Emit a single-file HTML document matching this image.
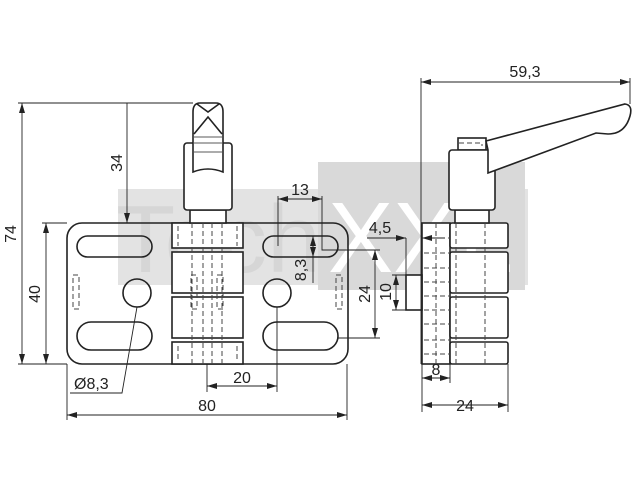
<!DOCTYPE html>
<html><head><meta charset="utf-8"><style>
html,body{margin:0;padding:0;background:#fff;}
svg{display:block;}
text{font-family:"Liberation Sans",sans-serif;font-size:16px;fill:#222;}
</style></head><body>
<svg width="640" height="480" viewBox="0 0 640 480" xmlns="http://www.w3.org/2000/svg">
<defs>
<marker id="a" viewBox="0 0 10 6" refX="10" refY="3" markerWidth="10" markerHeight="6" orient="auto-start-reverse" markerUnits="userSpaceOnUse"><path d="M0,0 L10,3 L0,6 z" fill="#222"/></marker>
</defs>
<!-- watermark -->
<rect x="118" y="189" width="410" height="96" fill="#e3e3e3"/>
<rect x="318" y="162" width="207" height="128" fill="#d9d9d9"/>
<text x="116" y="272" style="font-size:96px;fill:#d6d6d6;font-family:'Liberation Sans',sans-serif" textLength="205" lengthAdjust="spacingAndGlyphs">Tech</text>
<text x="328" y="272" style="font-size:100px;fill:#fff;font-family:'Liberation Sans',sans-serif" textLength="185" lengthAdjust="spacingAndGlyphs">XXL</text>

<g fill="none" stroke="#222" stroke-width="1.6">
<!-- left plate -->
<rect x="67" y="223" width="281" height="141" rx="15"/>
<rect x="77" y="236" width="75" height="21" rx="10.5"/>
<rect x="77" y="322" width="75" height="28" rx="14"/>
<rect x="263" y="236" width="75" height="21" rx="10.5"/>
<rect x="263" y="322" width="75" height="28" rx="14"/>
<circle cx="137" cy="293" r="14"/>
<circle cx="277" cy="293" r="14"/>
<!-- column -->
<rect x="172" y="223" width="71" height="25" fill="#fff"/>
<rect x="172" y="252" width="71" height="41" fill="#fff"/>
<rect x="172" y="297" width="71" height="41" fill="#fff"/>
<rect x="172" y="342" width="71" height="22" fill="#fff"/>
<!-- knob -->
<rect x="190" y="210" width="36" height="13" fill="#fff"/>
<rect x="184" y="143" width="48" height="67" rx="3" fill="#fff"/>
<path d="M193,172 L193,112 Q193,103 200,103 L216,103 Q223,103 223,112 L223,172 Q208,166 193,172 Z" fill="#fff"/>
<path d="M197,104 L208,112 L219,104 M194,134 L208,117 L222,134"/>
<path d="M194,137 L222,137 M194,143 L222,143 M194,152 L222,152" stroke-width="0.8"/>
<!-- right side view -->
<rect x="422" y="223" width="28" height="141" fill="#fff"/>
<rect x="450" y="223" width="58" height="25" rx="2" fill="#fff"/>
<rect x="450" y="252" width="58" height="41" rx="2" fill="#fff"/>
<rect x="450" y="297" width="58" height="41" rx="2" fill="#fff"/>
<rect x="450" y="342" width="58" height="22" rx="2" fill="#fff"/>
<rect x="406" y="275" width="16" height="35" fill="#fff"/>
<rect x="455" y="210" width="34" height="13" fill="#fff"/>
<rect x="458" y="138" width="28" height="12" fill="#fff"/>
<rect x="449" y="150" width="46" height="60" rx="3" fill="#fff"/>
<path d="M486,141 L625,104 Q633,105 630,116 Q625,134 608,134 L596,133 L488,173 L488,150 Z" fill="#fff"/>
</g>
<!-- dashed hidden lines -->
<g fill="none" stroke="#444" stroke-width="1" stroke-dasharray="5,3">
<path d="M192,223V364 M203,223V364 M212,223V364 M222,223V364"/>
<rect x="73" y="275" width="6" height="34"/>
<rect x="336" y="275" width="6" height="34"/>
<rect x="191" y="275" width="6" height="34"/>
<rect x="217" y="275" width="6" height="34"/>
<path d="M178,226V246 M237,226V246 M178,346V362 M237,346V362"/>
<path d="M436,223V364 M456,223V364 M485,223V364"/>
<path d="M424,238H450 M424,253H450 M424,268H450 M424,282H450 M424,296H450 M424,310H450 M424,324H450 M424,340H450 M424,354H450"/>
<path d="M459,143H482V146"/>
</g>
<!-- dimensions -->
<g fill="none" stroke="#222" stroke-width="0.9">
<path d="M18,103H193 M18,364H67 M42,223H67"/>
<path d="M22,103V364" marker-start="url(#a)" marker-end="url(#a)"/>
<path d="M46,223V364" marker-start="url(#a)" marker-end="url(#a)"/>
<path d="M127,103V223" marker-end="url(#a)"/>
<path d="M67,364V420 M347,364V420"/>
<path d="M67,415H347" marker-start="url(#a)" marker-end="url(#a)"/>
<path d="M207,364V392 M277,307V392"/>
<path d="M207,386H277" marker-start="url(#a)" marker-end="url(#a)"/>
<path d="M137,307L122,393H70"/>
<path d="M278,196V246 M322,196V250H380"/>
<path d="M278,199H322" marker-start="url(#a)" marker-end="url(#a)"/>
<path d="M313,236V283" /><path d="M313,243V236" marker-end="url(#a)"/><path d="M313,250V257" marker-end="url(#a)"/>
<path d="M338,338H380"/>
<path d="M375,250V338" marker-start="url(#a)" marker-end="url(#a)"/>
<path d="M421,78V364 M630,78V104"/>
<path d="M421,82H630" marker-start="url(#a)" marker-end="url(#a)"/>
<path d="M367,238H406" marker-end="url(#a)"/><path d="M445,238H422" marker-end="url(#a)"/>
<path d="M406,238V275 M392,275H406 M392,310H406"/>
<path d="M396,275V310" marker-start="url(#a)" marker-end="url(#a)"/>
<path d="M422,364V412 M450,364V383 M508,364V412"/>
<path d="M422,378H450" marker-start="url(#a)" marker-end="url(#a)"/>
<path d="M422,405H508" marker-start="url(#a)" marker-end="url(#a)"/>
</g>
<text x="16" y="234" transform="rotate(-90 16 234)" text-anchor="middle">74</text>
<text x="40" y="294" transform="rotate(-90 40 294)" text-anchor="middle">40</text>
<text x="122" y="163" transform="rotate(-90 122 163)" text-anchor="middle">34</text>
<text x="300" y="195" text-anchor="middle">13</text>
<text x="306" y="270" transform="rotate(-90 306 270)" text-anchor="middle">8,3</text>
<text x="370" y="294" transform="rotate(-90 370 294)" text-anchor="middle">24</text>
<text x="242" y="383" text-anchor="middle">20</text>
<text x="207" y="411" text-anchor="middle">80</text>
<text x="74" y="389">Ø8,3</text>
<text x="525" y="77" text-anchor="middle">59,3</text>
<text x="380" y="233" text-anchor="middle">4,5</text>
<text x="391" y="292" transform="rotate(-90 391 292)" text-anchor="middle">10</text>
<text x="436" y="375" text-anchor="middle">8</text>
<text x="465" y="411" text-anchor="middle">24</text>
</svg>
</body></html>
